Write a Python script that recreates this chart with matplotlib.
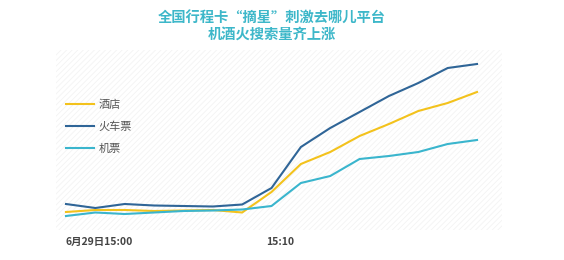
import matplotlib.pyplot as plt
import matplotlib.transforms as mtransforms
from matplotlib.patches import Rectangle

plt.rcParams['font.family'] = ['Noto Sans CJK SC', 'DejaVu Sans']
plt.rcParams['hatch.linewidth'] = 0.6

# search index (relative), 15 samples
points = list(range(15))
hotel = [18, 20, 20, 19, 19.5, 20, 17.5, 38, 66, 78, 94, 106, 119, 127, 138]
train = [26, 22, 26, 24.5, 24, 23.5, 25.5, 42, 83, 102, 118, 134, 147, 162, 166]
flight = [14, 17.5, 16, 17.5, 19, 19.5, 20.5, 24, 47, 54, 71, 74, 78, 86, 90]
tick_pos = [0, 7]
tick_labels = ['6月29日15:00', '15:10']

fig = plt.figure(figsize=(5.64, 2.60), dpi=100)
ax = fig.add_axes([56 / 564, 30 / 260, 446 / 564, 180 / 260])

# faint diagonal texture behind the plot
ax.add_patch(Rectangle((0, 0), 1, 1, transform=ax.transAxes, facecolor='white',
                       edgecolor='#f3f3f3', hatch='//////', linewidth=0, zorder=0))

ax.plot(points, hotel, color='#F3C21C', lw=1.5, label='酒店', zorder=3)
ax.plot(points, train, color='#2F6597', lw=1.5, label='火车票', zorder=3)
ax.plot(points, flight, color='#3AB5CD', lw=1.5, label='机票', zorder=3)

ax.set_xlim(-0.34, 14.85)
ax.set_ylim(0, 180)
for s in ax.spines.values():
    s.set_visible(False)
ax.set_yticks([])
ax.set_xticks(tick_pos)
ax.set_xticklabels(tick_labels, fontsize=7.5, fontweight='bold', color='#444444')
ax.tick_params(axis='x', length=0, pad=5)
labels = ax.get_xticklabels()
labels[0].set_ha('left')
shift = mtransforms.ScaledTranslation(0.09, 0, fig.dpi_scale_trans)
labels[1].set_transform(labels[1].get_transform() + shift)

leg = ax.legend(loc='upper left', bbox_to_anchor=(0.0, 0.783), frameon=False,
                fontsize=8, handlelength=2.5, labelspacing=1.05, handletextpad=0.4)
for t in leg.get_texts():
    t.set_color('#555555')

fig.text(0.482, 0.955, '全国行程卡“摘星”刺激去哪儿平台\n机酒火搜索量齐上涨', ha='center', va='top',
         fontsize=10.3, fontweight='bold', color='#3DB7C9', linespacing=1.2)

fig.savefig('out.png', dpi=100, facecolor='white')
